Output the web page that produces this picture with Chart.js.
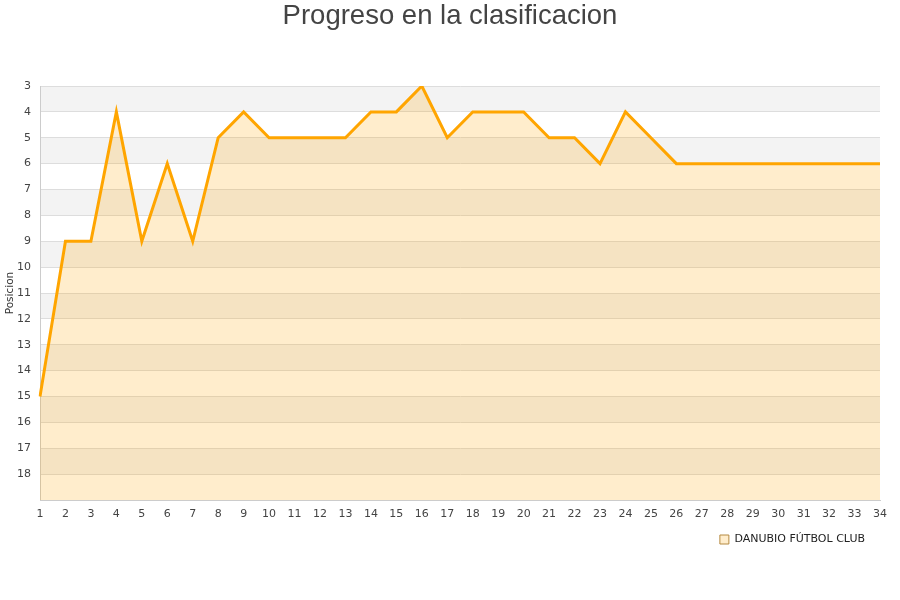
<!DOCTYPE html>
<html>
<head>
<meta charset="utf-8">
<script src="https://cdn.jsdelivr.net/npm/chart.js@4"></script>
<style>
html,body{margin:0;padding:0;background:#fff;}
canvas{display:block;}
</style>
</head>
<body>
<canvas id="c" width="900" height="600"></canvas>
<script>
const jornadas = ["1","2","3","4","5","6","7","8","9","10","11","12","13","14","15","16","17","18","19","20","21","22","23","24","25","26","27","28","29","30","31","32","33","34"];
const posiciones = [15,9,9,4,9,6,9,5,4,5,5,5,5,4,4,3,5,4,4,4,5,5,6,4,5,6,6,6,6,6,6,6,6,6];
const serieNombre = "DANUBIO FÚTBOL CLUB";
const titulo = "Progreso en la clasificacion";
const ejeY = "Posicion";
const yMin = 3, yMax = 19;

const bands = {
  id: 'bands',
  beforeDraw(chart) {
    const {ctx, chartArea, scales} = chart;
    const y = scales.y;
    ctx.save();
    for (let v = yMin; v < yMax; v++) {
      if (v % 2 === 1) {
        const p1 = y.getPixelForValue(v), p2 = y.getPixelForValue(v + 1);
        ctx.fillStyle = '#f3f3f3';
        ctx.fillRect(chartArea.left, Math.min(p1,p2), chartArea.right - chartArea.left, Math.abs(p2-p1));
      }
    }
    ctx.restore();
  }
};

new Chart(document.getElementById('c'), {
  type: 'line',
  data: {
    labels: jornadas,
    datasets: [{
      label: serieNombre,
      data: posiciones,
      borderColor: '#ffa500',
      backgroundColor: 'rgba(255,165,0,0.2)',
      borderWidth: 3,
      pointRadius: 0,
      pointHoverRadius: 0,
      tension: 0,
      fill: {value: yMax}
    }]
  },
  options: {
    responsive: false,
    animation: false,
    events: [],
    layout: {padding: {left: 0, right: 0, top: 0, bottom: 45}},
    plugins: {
      title: {
        display: true,
        text: titulo,
        color: '#444',
        font: {family: 'Liberation Sans', size: 27.5, weight: 'normal'},
        padding: {top: 0, bottom: 53}
      },
      legend: {
        position: 'bottom',
        align: 'end',
        fullSize: false,
        labels: {
          color: '#222',
          font: {family: 'DejaVu Sans', size: 11},
          boxWidth: 9,
          boxHeight: 9,
          padding: 15,
          generateLabels(chart) {
            return [{text: serieNombre, fillStyle: 'rgba(255,165,0,0.2)', strokeStyle: '#b58a40', lineWidth: 1, datasetIndex: 0, fontColor: '#222'}];
          }
        }
      },
      tooltip: {enabled: false}
    },
    scales: {
      x: {
        offset: false,
        grid: {display: false, drawTicks: false},
        border: {color: '#cccccc'},
        ticks: {color: '#444', font: {family: 'DejaVu Sans', size: 11}, maxRotation: 0, autoSkip: false, padding: 8},
        afterFit(s) { s.height = 19; }
      },
      y: {
        reverse: true,
        min: yMin,
        max: yMax,
        grid: {color: '#dddddd', drawTicks: false},
        border: {color: '#cccccc'},
        ticks: {
          stepSize: 1,
          color: '#444',
          font: {family: 'DejaVu Sans', size: 11},
          padding: 9,
          callback: (v) => (v === yMax ? '' : v)
        },
        title: {display: true, text: ejeY, color: '#333', font: {family: 'DejaVu Sans', size: 10.5}, padding: {top: 4, bottom: 0}},
        afterFit(s) { s.width = 40; }
      },
      y2: {
        type: 'linear',
        position: 'right',
        display: true,
        grid: {display: false, drawTicks: false},
        border: {display: false},
        ticks: {display: false},
        afterFit(s) { s.width = 20; }
      }
    }
  },
  plugins: [bands]
});
</script>
</body>
</html>
